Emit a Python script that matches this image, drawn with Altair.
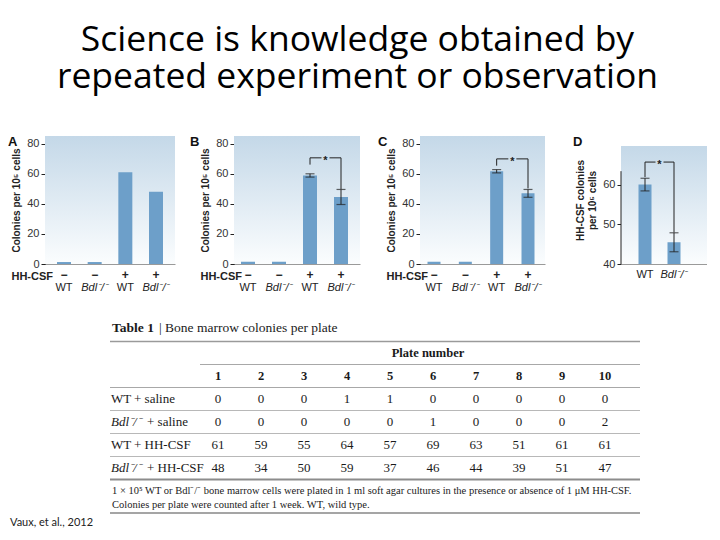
import altair as alt
import pandas as pd

# ---------------- data ----------------
TITLE_LINES = ["Science is knowledge obtained by", "repeated experiment or observation"]

GROUPS = ["WT-", "Bdl-", "WT+", "Bdl+"]
SIGNS = ["\u2212", "\u2212", "+", "+"]
GENOS = ["WT", "Bdl\u207b/\u207b", "WT", "Bdl\u207b/\u207b"]

A_VALUES = [1.3, 1.3, 61.0, 48.0]
A_ERR = [0, 0, 0, 0]
B_VALUES = [1.5, 1.5, 58.8, 44.5]
B_ERR = [0, 0, 1.1, 5.0]
C_VALUES = [1.5, 1.5, 61.6, 46.9]
C_ERR = [0, 0, 1.1, 2.6]

D_GROUPS = ["WT", "Bdl"]
D_LABELS = ["WT", "Bdl\u207b/\u207b"]
D_VALUES = [60.1, 45.5]
D_ERR = [1.6, 2.4]

# significance brackets: left group, right group, top, left foot, right foot
B_SIG = ["WT+", "Bdl+", 70.5, 66.0, 49.8]
C_SIG = ["WT+", "Bdl+", 69.8, 65.3, 50.2]
D_SIG = ["WT", "Bdl", 65.8, 62.0, 48.0]

PLATES = list(range(1, 11))
ROW_GENO = ["WT", "Bdl\u207b/\u207b", "WT", "Bdl\u207b/\u207b"]
ROW_TREAT = ["+ saline", "+ saline", "+ HH-CSF", "+ HH-CSF"]
WT_SALINE = [0, 0, 0, 1, 1, 0, 0, 0, 0, 0]
BDL_SALINE = [0, 0, 0, 0, 0, 1, 0, 0, 0, 2]
WT_HHCSF = [61, 59, 55, 64, 57, 69, 63, 51, 61, 61]
BDL_HHCSF = [48, 34, 50, 59, 37, 46, 44, 39, 51, 47]
TABLE_TITLE_BOLD = "Table 1"
TABLE_TITLE_REST = "| Bone marrow colonies per plate"
TABLE_HEADER = "Plate number"
FOOTNOTE = [
    "1 \u00d7 10\u2075 WT or Bdl\u207b/\u207b bone marrow cells were plated in 1 ml soft agar cultures in the presence or absence of 1 \u03bcM HH-CSF.",
    "Colonies per plate were counted after 1 week. WT, wild type.",
]
CREDIT = "Vaux, et al., 2012"

# ---------------- styles ----------------
SANS = "Liberation Sans"
SERIF = "Liberation Serif"
TFONT = "Open Sans"
BAR = "#6d9fc9"
INK = "#222222"
GRAD = alt.LinearGradient(
    gradient="linear",
    stops=[alt.GradientStop(color="#c4d8e8", offset=0),
           alt.GradientStop(color="#fbfdfe", offset=1)],
    x1=0, x2=0, y1=0, y2=1,
)
ONE = pd.DataFrame({"k": [0]})


def band_scale(domain, width, first_off, last_off, bw):
    n = len(domain)
    step = (width - first_off - last_off) / (n - 1)
    pi = 1 - bw / step
    po = (width / step - (n - pi)) / 2
    al = (first_off - bw / 2) / (first_off + last_off - bw)
    return alt.Scale(domain=domain, paddingInner=pi, paddingOuter=po, align=al), step


def panel(letter, groups, values, errs, sig, width, height, ydomain, yticks, ytitle,
          first_off, last_off, bw, letter_x, spacer_x,
          signs=None, genos=None, geno_dy=24, axis_top=None, bg_top=0):
    xs, step = band_scale(groups, width, first_off, last_off, bw)
    ys = alt.Scale(domain=ydomain, nice=False, zero=False)
    xaxis = alt.Axis(labels=False, ticks=False, title=None, grid=False,
                     domainColor="#9a9a9a", domainWidth=1)
    yaxis = alt.Axis(values=yticks, title=ytitle, grid=False, domain=axis_top is None,
                     domainColor=INK, tickColor=INK, tickSize=4, labelPadding=2,
                     labelFont=SANS, labelFontSize=11, labelColor="#333333",
                     titleFont=SANS, titleFontSize=10, titleFontWeight="bold",
                     titleColor=INK, titlePadding=5)

    def X(f):
        return alt.X(f"{f}:N", scale=xs, axis=xaxis)

    def Y(f):
        return alt.Y(f"{f}:Q", scale=ys, axis=yaxis)

    df = pd.DataFrame({"g": groups, "v": values, "e": errs,
                       "geno": genos if genos else groups})
    df["lo"] = df["v"] - df["e"]
    df["hi"] = df["v"] + df["e"]
    if signs:
        df["sign"] = signs
    dfe = df[df["e"] > 0]

    layers = [
        alt.Chart(ONE).mark_rect(color=GRAD).encode(
            x=alt.value(0), x2=alt.value(width), y=alt.value(bg_top), y2=alt.value(height)),
        alt.Chart(df).mark_bar(color=BAR, clip=True).encode(x=X("g"), y=Y("v")),
    ]
    if axis_top is not None:
        ad = pd.DataFrame({"a": [ydomain[0]], "b": [axis_top]})
        layers.append(alt.Chart(ad).mark_rule(color=INK, strokeWidth=1).encode(
            x=alt.value(0), y=Y("a"), y2=alt.Y2("b")))
    if len(dfe):
        layers += [
            alt.Chart(dfe).mark_rule(color=INK, strokeWidth=1).encode(
                x=X("g"), y=Y("lo"), y2=alt.Y2("hi")),
            alt.Chart(dfe).mark_tick(color=INK, size=9, thickness=1.2).encode(x=X("g"), y=Y("lo")),
            alt.Chart(dfe).mark_tick(color=INK, size=9, thickness=1.2).encode(x=X("g"), y=Y("hi")),
        ]
    if sig:
        sd = pd.DataFrame({"l": [sig[0]], "r": [sig[1]], "top": [sig[2]],
                           "lf": [sig[3]], "rf": [sig[4]]})
        gap = 4
        layers += [
            alt.Chart(sd).mark_rule(color=INK).encode(x=X("l"), y=Y("lf"), y2=alt.Y2("top")),
            alt.Chart(sd).mark_rule(color=INK).encode(x=X("r"), y=Y("rf"), y2=alt.Y2("top")),
            alt.Chart(sd).mark_rule(color=INK, x2Offset=-(step / 2 + gap)).encode(
                x=X("l"), x2=alt.X2(field="r"), y=Y("top")),
            alt.Chart(sd).mark_rule(color=INK, xOffset=step / 2 + gap).encode(
                x=X("l"), x2=alt.X2(field="r"), y=Y("top")),
            alt.Chart(sd).mark_text(text="*", font=SANS, fontSize=11, fontWeight="bold",
                                    color=INK, dx=step / 2, dy=3).encode(x=X("l"), y=Y("top")),
        ]
    if signs:
        layers.append(alt.Chart(df).mark_text(font=SANS, fontSize=12, fontWeight="bold",
                                              color=INK).encode(
            x=X("g"), y=alt.value(height + 11), text="sign:N"))
        layers.append(alt.Chart(ONE.assign(t="HH-CSF")).mark_text(
            font=SANS, fontSize=11, fontWeight="bold", color=INK, align="right").encode(
            x=alt.value(8), y=alt.value(height + 13), text="t:N"))
    wt = df[df["geno"] == "WT"]
    ko = df[df["geno"] != "WT"]
    layers.append(alt.Chart(wt).mark_text(font=SANS, fontSize=11, color=INK).encode(
        x=X("g"), y=alt.value(height + geno_dy), text="geno:N"))
    layers.append(alt.Chart(ko).mark_text(font=SANS, fontSize=11, fontStyle="italic",
                                          color=INK).encode(
        x=X("g"), y=alt.value(height + geno_dy), text="geno:N"))
    layers.append(alt.Chart(ONE.assign(t=letter)).mark_text(
        font=SANS, fontSize=13, fontWeight="bold", color="#111111",
        align="left", baseline="top").encode(
        x=alt.value(letter_x), y=alt.value(0), text="t:N"))
    layers.append(alt.Chart(ONE.assign(t=".")).mark_text(
        font=SANS, fontSize=10, opacity=0, align="left", baseline="top").encode(
        x=alt.value(spacer_x), y=alt.value(0), text="t:N"))
    return alt.layer(*layers).properties(width=width, height=height)


YT = "Colonies per 10\u2075 cells"
pA = panel("A", GROUPS, A_VALUES, A_ERR, None, 130, 128, [0, 85], [0, 20, 40, 60, 80], YT,
           19, 19, 14, -37, -37, SIGNS, GENOS)
pB = panel("B", GROUPS, B_VALUES, B_ERR, B_SIG, 126, 128, [0, 85], [0, 20, 40, 60, 80], YT,
           14, 19, 14, -44, -44, SIGNS, GENOS)
pC = panel("C", GROUPS, C_VALUES, C_ERR, C_SIG, 125, 128, [0, 85], [0, 20, 40, 60, 80], YT,
           14, 17, 13, -42, -45, SIGNS, GENOS)
pD = panel("D", D_GROUPS, D_VALUES, D_ERR, D_SIG, 86, 128, [40, 72.4], [40, 50, 60],
           ["HH-CSF colonies", "per 10\u2075 cells"],
           24, 33, 13, -48, -61, None, D_LABELS, geno_dy=11, axis_top=63.5, bg_top=10)

# ---------------- table (origin aligned with panel A's plot origin) ----------------
TW, TH = 595, 212
tx = alt.Scale(domain=[1, 10], range=[173, 560], nice=False, zero=False)
ty = alt.Scale(domain=[0, 8], range=[13, 197], nice=False, zero=False)


def TX(f):
    return alt.X(f"{f}:Q", scale=tx, axis=None)


def TY(f):
    return alt.Y(f"{f}:Q", scale=ty, axis=None)


rows = [WT_SALINE, BDL_SALINE, WT_HHCSF, BDL_HHCSF]
cells = pd.DataFrame([{"i": 3 + r, "p": p, "val": str(v)}
                      for r, vals in enumerate(rows) for p, v in zip(PLATES, vals)])
header = pd.DataFrame({"p": PLATES, "i": [2] * 10, "t": [str(p) for p in PLATES]})
labels = pd.DataFrame({"i": [3, 4, 5, 6], "geno": ROW_GENO, "treat": ROW_TREAT})

TXT = dict(font=SERIF, color="#1a1a1a")
tl = []


def rules(idx, x0, color, w):
    return alt.Chart(pd.DataFrame({"i": idx})).mark_rule(color=color, strokeWidth=w).encode(
        x=alt.value(x0), x2=alt.value(TW), y=TY("i"))


tl += [
    rules([0.5], 65, "#9a9a9a", 1.5),
    rules([1.5], 155, "#a8a8a8", 1),
    rules([2.5], 65, "#a8a8a8", 1),
    rules([3.5, 4.5, 5.5], 65, "#b8b8b8", 1),
    rules([6.5], 65, "#8c8c8c", 2),
    rules([7.96], 65, "#a5a5a5", 2),
]
tl.append(alt.Chart(ONE.assign(i=-0.1, t=TABLE_TITLE_BOLD)).mark_text(
    fontSize=13.5, fontWeight="bold", align="left", **TXT).encode(
    x=alt.value(67), y=TY("i"), text="t:N"))
tl.append(alt.Chart(ONE.assign(i=-0.1, t=TABLE_TITLE_REST)).mark_text(
    fontSize=13.5, align="left", **TXT).encode(
    x=alt.value(114), y=TY("i"), text="t:N"))
tl.append(alt.Chart(ONE.assign(i=1, t=TABLE_HEADER)).mark_text(
    fontSize=12.5, fontWeight="bold", align="center", **TXT).encode(
    x=alt.value(383), y=TY("i"), text="t:N"))
tl.append(alt.Chart(header).mark_text(fontSize=12.5, fontWeight="bold", **TXT).encode(
    x=TX("p"), y=TY("i"), text="t:N"))
tl.append(alt.Chart(cells).mark_text(fontSize=13, **TXT).encode(
    x=TX("p"), y=TY("i"), text="val:N"))
tl.append(alt.Chart(labels[labels["geno"] == "WT"]).mark_text(
    fontSize=13, align="left", **TXT).encode(x=alt.value(66), y=TY("i"), text="geno:N"))
tl.append(alt.Chart(labels[labels["geno"] != "WT"]).mark_text(
    fontSize=13, align="left", fontStyle="italic", **TXT).encode(
    x=alt.value(66), y=TY("i"), text="geno:N"))
tl.append(alt.Chart(labels[labels["geno"] == "WT"]).mark_text(
    fontSize=13, align="left", **TXT).encode(x=alt.value(89), y=TY("i"), text="treat:N"))
tl.append(alt.Chart(labels[labels["geno"] != "WT"]).mark_text(
    fontSize=13, align="left", **TXT).encode(x=alt.value(102), y=TY("i"), text="treat:N"))
tl.append(alt.Chart(pd.DataFrame({"i": [7, 7.6], "t": FOOTNOTE})).mark_text(
    fontSize=10.5, align="left", **TXT).encode(x=alt.value(67), y=TY("i"), text="t:N"))
tl.append(alt.Chart(ONE.assign(i=8.39, t=CREDIT)).mark_text(
    font="Lato", fontSize=11, align="left", color="#222222").encode(
    x=alt.value(-35), y=TY("i"), text="t:N"))

table = alt.layer(*tl).properties(width=TW, height=TH)

row = alt.hconcat(pA, pB, pC, pD, spacing=15)
chart = alt.vconcat(row, table, spacing=24).properties(
    title=alt.TitleParams(TITLE_LINES, font=TFONT, fontSize=35.5, fontWeight="normal",
                          lineHeight=37, anchor="middle", offset=40.5, color="#000000"),
    padding={"left": 0, "top": 15, "right": 0, "bottom": 0},
    background="white",
).configure_view(stroke=None)

chart.save("out.html", embed_options={"renderer": "svg", "actions": False})
